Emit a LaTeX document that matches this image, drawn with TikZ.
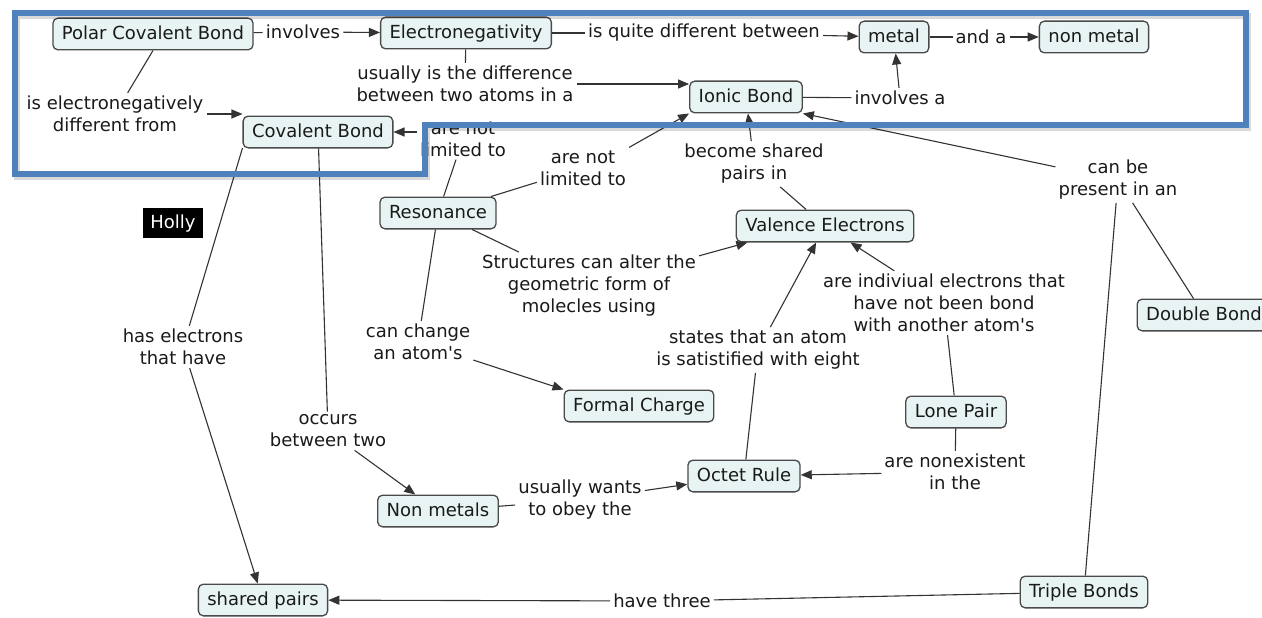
\documentclass[tikz,border=0pt]{standalone}
\usepackage{fontspec}
\setmainfont{DejaVu Sans}
\usetikzlibrary{arrows.meta}
\definecolor{conceptfill}{HTML}{E8F3F3}
\definecolor{conceptline}{HTML}{4A4A4A}
\definecolor{linkline}{HTML}{333333}
\definecolor{inktext}{HTML}{1A1A1A}
\definecolor{frameblue}{HTML}{4F81BD}
\newcommand{\mapfont}{\fontsize{18}{22}\selectfont}
\tikzset{
  concept/.style={draw=conceptline, line width=1.3pt, fill=conceptfill,
    rounded corners=5pt, text=inktext, font=\mapfont,
    inner xsep=9pt, inner ysep=7pt, text height=14.5pt, text depth=3.2pt},
  linkphrase/.style={text=inktext, font=\mapfont, align=center, inner sep=3pt},
  link/.style={draw=linkline, line width=1.1pt},
  linkto/.style={link, -{Triangle[length=11pt,width=9pt]}},
  namebox/.style={fill=black, text=white, font=\mapfont,
    inner xsep=7.5pt, inner ysep=6pt, text height=14.5pt, text depth=3.2pt},
  highlight/.style={draw=frameblue, line width=6pt, line join=miter},
}
\begin{document}
\begin{tikzpicture}[x=1pt,y=-1pt]
\clip (0,0) rectangle (1262,618);
\fill[white] (0,0) rectangle (1262,618);

% concepts
\node[concept] (pcb)      at (153,34)  {Polar Covalent Bond};
\node[concept] (en)       at (466,33)  {Electronegativity};
\node[concept] (metal)    at (894,37)  {metal};
\node[concept] (nonmetal) at (1094,37) {non metal};
\node[concept] (ionic)    at (746,97)  {Ionic Bond};
\node[concept] (cov)      at (318,132) {Covalent Bond};
\node[concept] (res)      at (438,213) {Resonance};
\node[concept] (val)      at (825,226) {Valence Electrons};
\node[concept] (dbl)      at (1204,315) {Double Bond};
\node[concept] (fc)       at (639,406) {Formal Charge};
\node[concept] (lp)       at (956,412) {Lone Pair};
\node[concept] (octet)    at (744,476) {Octet Rule};
\node[concept] (nm)       at (438,511) {Non metals};
\node[concept] (sp)       at (263,600) {shared pairs};
\node[concept] (triple)   at (1084,592) {Triple Bonds};
\node[namebox] (holly)    at (173,223) {Holly};

% linking phrases
\node[linkphrase] (linv)    at (303,32)  {involves};
\node[linkphrase] (lquite)  at (704,33)  {is quite different between};
\node[linkphrase] (landa)   at (981,37)  {and a};
\node[linkphrase] (lusual)  at (465,84)  {usually is the difference\\between two atoms in a};
\node[linkphrase] (linva)   at (900,98)  {involves a};
\node[linkphrase] (lisel)   at (115,114) {is electronegatively\\different from};
\node[linkphrase] (lanl)    at (463,139) {are not\\limited to};
\node[linkphrase] (lanlb)   at (583,168) {are not\\limited to};
\node[linkphrase] (lbecome) at (754,164) {become shared\\pairs in};
\node[linkphrase] (lcanbe)  at (1118,180) {can be\\present in an};
\node[linkphrase] (lstruct) at (589,286) {Structures can alter the\\geometric form of\\molecles using};
\node[linkphrase] (lindiv)  at (944,303) {are indiviual electrons that\\have not been bond\\with another atom\textquotesingle s};
\node[linkphrase] (lstates) at (758,350) {states that an atom\\is satistified with eight};
\node[linkphrase] (lchange) at (418,342) {can change\\an atom\textquotesingle s};
\node[linkphrase] (lhas)    at (183,347) {has electrons\\that have};
\node[linkphrase] (loccurs) at (328,431) {occurs\\between two};
\node[linkphrase] (lwants)  at (580,500) {usually wants\\to obey the};
\node[linkphrase] (lnonex)  at (955,472) {are nonexistent\\in the};
\node[linkphrase] (lthree)  at (662,601) {have three};

% connectors
\draw[link]   (pcb) -- (linv);
\draw[linkto] (linv) -- (en);
\draw[link]   (en) -- (lquite);
\draw[linkto] (lquite) -- (metal);
\draw[link]   (metal) -- (landa);
\draw[linkto] (landa) -- (nonmetal);
\draw[link]   (en) -- (lusual);
\draw[linkto] (lusual.east) -- (ionic.west |- lusual.east);
\draw[link]   (ionic) -- (linva);
\draw[linkto] (linva) -- (metal);
\draw[link]   (pcb.south) -- (lisel);
\draw[linkto] (lisel.east) -- (cov.west |- lisel.east);
\draw[link]   (res) -- (lanl);
\draw[linkto] (lanl.west |- cov.east) -- (cov.east);
\draw[link]   (res) -- (lanlb);
\draw[linkto] (lanlb.north east) -- (ionic.south west);
\draw[link]   (val) -- (lbecome);
\draw[linkto] (lbecome) -- (ionic);
\draw[linkto] (lcanbe) -- (ionic.south east);
\draw[link]   (lcanbe) -- (dbl);
\draw[link]   (lcanbe) -- (triple);
\draw[link]   (res) -- (lstruct);
\draw[linkto] (lstruct) -- (val.192);
\draw[link]   (lp) -- (lindiv);
\draw[linkto] (lindiv) -- (val);
\draw[link]   (octet) -- (lstates);
\draw[linkto] (lstates) -- (val);
\draw[link]   (res) -- (lchange);
\draw[linkto] (lchange) -- (fc.north west);
\draw[link]   (cov.192) -- (lhas);
\draw[linkto] (lhas) -- (sp);
\draw[link]   (cov) -- (loccurs);
\draw[linkto] (loccurs) -- (nm);
\draw[link]   (nm) -- (lwants);
\draw[linkto] (lwants) -- (octet);
\draw[link]   (lp) -- (lnonex);
\draw[linkto] (lnonex) -- (octet);
\draw[link]   (triple) -- (lthree);
\draw[linkto] (lthree) -- (sp);

% highlight frame with a soft shadow
\begin{scope}[shift={(2,3)}]
  \draw[black, opacity=0.15, line width=6pt, line join=miter]
    (15,13.5) -- (1246,13.5) -- (1246,124.5) -- (425,124.5) -- (425,173.5) -- (15,173.5) -- cycle;
\end{scope}
\draw[highlight]
  (15,13.5) -- (1246,13.5) -- (1246,124.5) -- (425,124.5) -- (425,173.5) -- (15,173.5) -- cycle;
\end{tikzpicture}
\end{document}
